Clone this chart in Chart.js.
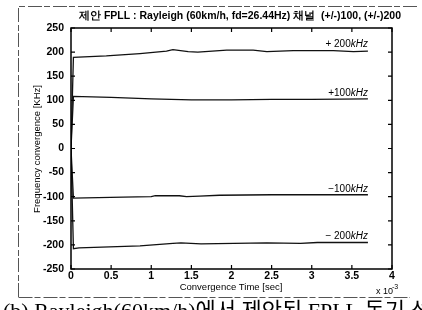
<!DOCTYPE html>
<html>
<head>
<meta charset="utf-8">
<script src="https://cdn.jsdelivr.net/npm/chart.js@4.4.1/dist/chart.umd.min.js"></script>
<style>
  html,body{margin:0;padding:0;background:#fff;}
  #wrap{position:relative;width:422px;height:310px;}
</style>
</head>
<body>
<div id="wrap"><canvas id="fpll" width="422" height="310"></canvas></div>
<script>
// time axis in units of 1e-3 sec
const xTicks = [0, 0.5, 1, 1.5, 2, 2.5, 3, 3.5, 4];
const yTicks = [-250, -200, -150, -100, -50, 0, 50, 100, 150, 200, 250];

const tPlus200 = [0, 0.03, 0.44, 0.86, 1.19, 1.27, 1.46, 1.58, 1.94, 2.27, 2.44, 2.77, 3.27, 3.52, 3.7];
const vPlus200 = [0, 189, 192, 197, 202, 205, 201, 200, 204, 204, 201, 203, 203, 201, 202];

const tPlus100 = [0, 0.03, 0.5, 1.0, 1.5, 2.0, 2.5, 3.0, 3.7];
const vPlus100 = [0, 108, 106, 103, 101, 101, 102, 102, 103];

const tMinus100 = [0, 0.03, 0.65, 1.0, 1.05, 1.35, 1.44, 1.6, 1.85, 2.5, 3.0, 3.7];
const vMinus100 = [0, -103, -101, -100, -98, -98, -100, -99, -97, -96, -96, -96];

const tMinus200 = [0, 0.03, 0.1, 0.86, 1.27, 1.37, 1.62, 2.03, 2.44, 2.86, 3.07, 3.7];
const vMinus200 = [0, -208, -206, -202, -197, -196, -198, -197, -196, -197, -195, -195];

const seriesLabels = ['+ 200', '+100', '\u2212100', '\u2212 200'];
const labelAnchorY = [219, 117, -82, -180];
const labelAnchorX = 3.7;

const chartTitle = '제안 FPLL : Rayleigh (60km/h, fd=26.44Hz) 채널  (+/-)100, (+/-)200';
const yTitle = 'Frequency convergence [KHz]';
const xTitle = 'Convergence Time [sec]';
const caption = '(b) Rayleigh(60km/h)에서 제안된 FPLL 동기 성능';

const pts = (xs, ys) => xs.map((x, i) => ({x, y: ys[i]}));
const mk = (xs, ys) => ({
  data: pts(xs, ys), borderColor: '#111', borderWidth: 1.3,
  pointRadius: 0, tension: 0, fill: false
});

const sans = '"Liberation Sans", Arial, sans-serif';

const decor = {
  id: 'decor',
  afterDraw(chart){
    const c = chart.ctx, a = chart.chartArea;
    const sx = chart.scales.x, sy = chart.scales.y;
    c.save();
    // outer scan frame
    c.strokeStyle = '#555'; c.lineWidth = 1;
    c.setLineDash([14, 2, 6, 3]);
    c.beginPath();
    c.moveTo(18.5, 297); c.lineTo(18.5, 6.5); c.lineTo(418, 6.5);
    c.moveTo(18.5, 297.5); c.lineTo(410, 297.5);
    c.stroke();
    c.setLineDash([]);
    // axes box
    c.strokeStyle = '#000'; c.lineWidth = 1.5;
    c.strokeRect(a.left, a.top, a.right - a.left, a.bottom - a.top);
    // inward ticks on all sides
    c.lineWidth = 1.2;
    c.beginPath();
    xTicks.forEach(v => {
      const px = sx.getPixelForValue(v);
      c.moveTo(px, a.bottom); c.lineTo(px, a.bottom - 4);
      c.moveTo(px, a.top); c.lineTo(px, a.top + 4);
    });
    yTicks.forEach(v => {
      const py = sy.getPixelForValue(v);
      c.moveTo(a.left, py); c.lineTo(a.left + 4, py);
      c.moveTo(a.right, py); c.lineTo(a.right - 4, py);
    });
    c.stroke();
    // series labels
    c.fillStyle = '#000';
    c.textBaseline = 'alphabetic';
    seriesLabels.forEach((s, i) => {
      const x = sx.getPixelForValue(labelAnchorX);
      const y = sy.getPixelForValue(labelAnchorY[i]) + 4;
      c.font = 'italic 10px ' + sans;
      const wk = c.measureText('kHz').width;
      c.textAlign = 'right';
      c.fillText('kHz', x, y);
      c.font = '10px ' + sans;
      c.fillText(s, x - wk, y);
    });
    // title
    c.textAlign = 'center'; c.textBaseline = 'middle';
    c.font = 'bold 10.5px ' + sans;
    c.fillText(chartTitle, 240, 16);
    // axis titles
    c.font = '9.5px ' + sans;
    c.fillText(xTitle, 231, 287);
    c.save();
    c.translate(37, 149); c.rotate(-Math.PI / 2);
    c.fillText(yTitle, 0, 0);
    c.restore();
    c.font = '9px ' + sans;
    c.textAlign = 'left';
    c.fillText('x 10', 376, 292);
    c.font = '7px ' + sans;
    c.fillText('-3', 392, 287);
    // caption, cut off at the bottom
    c.font = '22px "Liberation Serif", "Noto Sans CJK KR", serif';
    c.textBaseline = 'top';
    c.fillText(caption, 3, 301);
    c.restore();
  }
};

new Chart(document.getElementById('fpll'), {
  type: 'line',
  data: {
    datasets: [
      mk(tPlus200, vPlus200),
      mk(tPlus100, vPlus100),
      mk(tMinus100, vMinus100),
      mk(tMinus200, vMinus200)
    ]
  },
  options: {
    responsive: false,
    animation: false,
    layout: { padding: { left: 0, top: 28, right: 30, bottom: 0 } },
    plugins: { legend: { display: false }, tooltip: { enabled: false }, title: { display: false } },
    scales: {
      x: {
        type: 'linear', min: 0, max: 4,
        afterFit: s => { s.height = 41; },
        afterBuildTicks: s => { s.ticks = xTicks.map(v => ({value: v})); },
        grid: { display: false, drawTicks: false },
        border: { display: false },
        ticks: {
          color: '#000', padding: 1, maxRotation: 0,
          font: { family: sans, size: 10.5, weight: 'bold' },
          callback: v => String(v)
        }
      },
      y: {
        min: -250, max: 250,
        afterFit: s => { s.width = 71; },
        afterBuildTicks: s => { s.ticks = yTicks.map(v => ({value: v})); },
        grid: { display: false, drawTicks: false },
        border: { display: false },
        ticks: {
          color: '#000', padding: 7,
          font: { family: sans, size: 10.5, weight: 'bold' },
          callback: v => String(v)
        }
      }
    }
  },
  plugins: [decor]
});
</script>
</body>
</html>
